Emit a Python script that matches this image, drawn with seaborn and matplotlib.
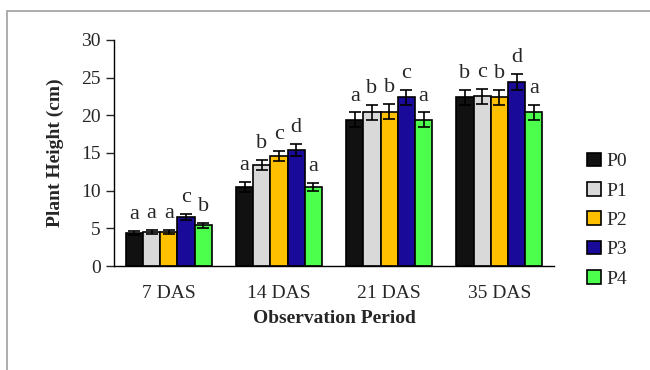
import pandas as pd
import matplotlib
matplotlib.use("Agg")
import matplotlib.pyplot as plt
import seaborn as sns
from matplotlib.patches import Rectangle, Patch

periods = ['7 DAS', '14 DAS', '21 DAS', '35 DAS']
treatments = ['P0', 'P1', 'P2', 'P3', 'P4']
heights = {
    'P0': [4.4, 10.5, 19.4, 22.4],
    'P1': [4.5, 13.4, 20.4, 22.5],
    'P2': [4.5, 14.6, 20.5, 22.4],
    'P3': [6.5, 15.4, 22.4, 24.4],
    'P4': [5.4, 10.5, 19.4, 20.4],
}
errors = {
    'P0': [0.3, 0.7, 1.0, 1.0],
    'P1': [0.3, 0.7, 1.0, 1.0],
    'P2': [0.3, 0.7, 1.0, 1.0],
    'P3': [0.4, 0.8, 1.0, 1.1],
    'P4': [0.3, 0.5, 1.0, 1.0],
}
letters = {
    'P0': ['a', 'a', 'a', 'b'],
    'P1': ['a', 'b', 'b', 'c'],
    'P2': ['a', 'c', 'b', 'b'],
    'P3': ['c', 'd', 'c', 'd'],
    'P4': ['b', 'a', 'a', 'a'],
}
colors = ['#111111', '#d9d9d9', '#ffc000', '#1a0a9a', '#4dff4d']

rows = []
for t in treatments:
    for i, p in enumerate(periods):
        rows.append({'Period': p, 'Treatment': t, 'Height': heights[t][i],
                     'Err': errors[t][i], 'Letter': letters[t][i]})
df = pd.DataFrame(rows)

sns.set_style("white")
plt.rcParams['font.family'] = ['Liberation Serif', 'DejaVu Serif']

fig = plt.figure(figsize=(6.5, 3.7), dpi=100)
ax = fig.add_axes([0.175, 0.281, 0.678, 0.611])

sns.barplot(data=df, x='Period', y='Height', hue='Treatment', hue_order=treatments,
            palette=colors, saturation=1, errorbar=None, width=0.78,
            edgecolor='black', linewidth=1.2, ax=ax, legend=False)

# error bars and letters, bars come out grouped by hue
for j, t in enumerate(treatments):
    sub = df[df['Treatment'] == t].reset_index(drop=True)
    for i in range(len(periods)):
        bar = ax.patches[j * len(periods) + i]
        xc = bar.get_x() + bar.get_width() / 2
        h = sub.loc[i, 'Height']
        e = sub.loc[i, 'Err']
        ax.errorbar(xc, h, yerr=e, color='black', capsize=4, elinewidth=1.2,
                    capthick=1.2)
        ax.text(xc, h + e + 0.9, sub.loc[i, 'Letter'], ha='center', va='bottom',
                fontsize=16)

ax.set_ylim(0, 30)
ax.set_yticks(range(0, 31, 5))
ax.set_xlim(-0.5, 3.5)
ax.tick_params(axis='y', labelsize=14, direction='out', length=6, width=1, left=True)
ax.tick_params(axis='x', labelsize=14, bottom=False, pad=10)
for s in ['top', 'right']:
    ax.spines[s].set_visible(False)
for s in ['left', 'bottom']:
    ax.spines[s].set_color('black')
    ax.spines[s].set_linewidth(1)
ax.set_ylabel('Plant Height (cm)', fontsize=14, fontweight='bold', labelpad=12)
ax.set_xlabel('Observation Period', fontsize=14, fontweight='bold', labelpad=6)

handles = [Patch(facecolor=c, edgecolor='black', linewidth=1.2) for c in colors]
fig.legend(handles, treatments, loc='center left', bbox_to_anchor=(0.876, 0.405),
           frameon=False, fontsize=14, handlelength=0.7, handleheight=0.7,
           handletextpad=0.3, labelspacing=0.6)

# outer chart frame (cropped on right and bottom)
fig.patches.append(Rectangle((7 / 650, -0.1), 1.2, 1 - 11 / 370 + 0.1,
                             transform=fig.transFigure, fill=False,
                             edgecolor='#a0a0a0', linewidth=1.2))

fig.savefig('out.png', dpi=100)
